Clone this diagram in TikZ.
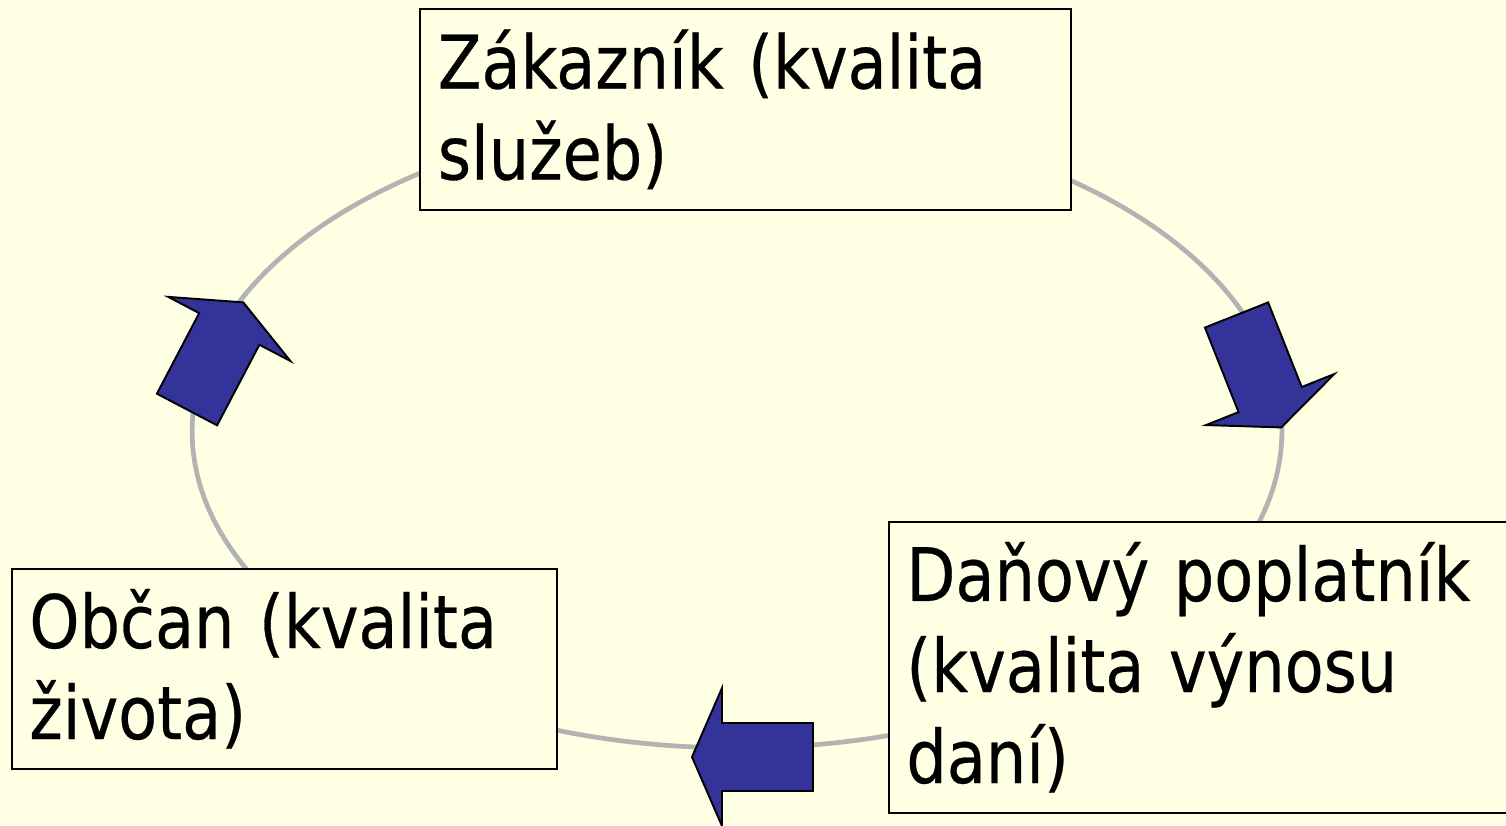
\documentclass[tikz,border=0pt]{standalone}
\usepackage{fontspec}
\setmainfont{DejaVu Sans Condensed}[FakeStretch=0.96, FakeBold=0.4]
\hyphenpenalty=10000

\definecolor{bgyellow}{HTML}{FFFFE3}
\definecolor{arrowblue}{HTML}{333399}
\definecolor{ringgray}{HTML}{B3B3B3}

\tikzset{
  blockarrow/.pic={
    \draw[arrowfill] (0,34) -- (91,34) -- (91,69) -- (121,0) -- (91,-69) -- (91,-34) -- (0,-34) -- cycle;
  }
}

\begin{document}
\begin{tikzpicture}[x=0.02cm, y=-0.02cm]

% definitions
\tikzstyle{role} = [rectangle, draw=black, line width=1pt, fill=bgyellow, anchor=north west, inner xsep=0.34cm, inner ysep=0pt, align=left, font=\fontsize{42}{51.8}\selectfont]

\tikzstyle{ring} = [draw=ringgray, line width=2.7pt]

\tikzstyle{arrowfill} = [draw=black, line width=1.1pt, fill=arrowblue, line join=miter]


% background
\fill[bgyellow] (0,0) rectangle (1506,825);
\useasboundingbox (0,0) rectangle (1506,825);


% cycle
\draw[ring] (737,431) ellipse [x radius=10.9cm, y radius=6.34cm];


% roles
\node (zakaznik) [role, minimum width=13.02cm, minimum height=4.02cm, text width=12.3cm] at (419,8) {Zákazník (kvalita\\služeb)};
\node (poplatnik) [role, minimum width=12.4cm, minimum height=5.82cm, text width=11.7cm] at (888,521) {Daňový poplatník\\(kvalita výnosu\\daní)};
\node (obcan) [role, minimum width=10.9cm, minimum height=4.0cm, text width=10.2cm] at (11,568) {Občan (kvalita\\života)};


% flow
\pic (toright) [rotate=-68.3] at (1236.5,315) {blockarrow};
\pic (toleft) [rotate=180] at (813,757) {blockarrow};
\pic (toup) [rotate=62.3] at (187,409.5) {blockarrow};

\end{tikzpicture}
\end{document}
